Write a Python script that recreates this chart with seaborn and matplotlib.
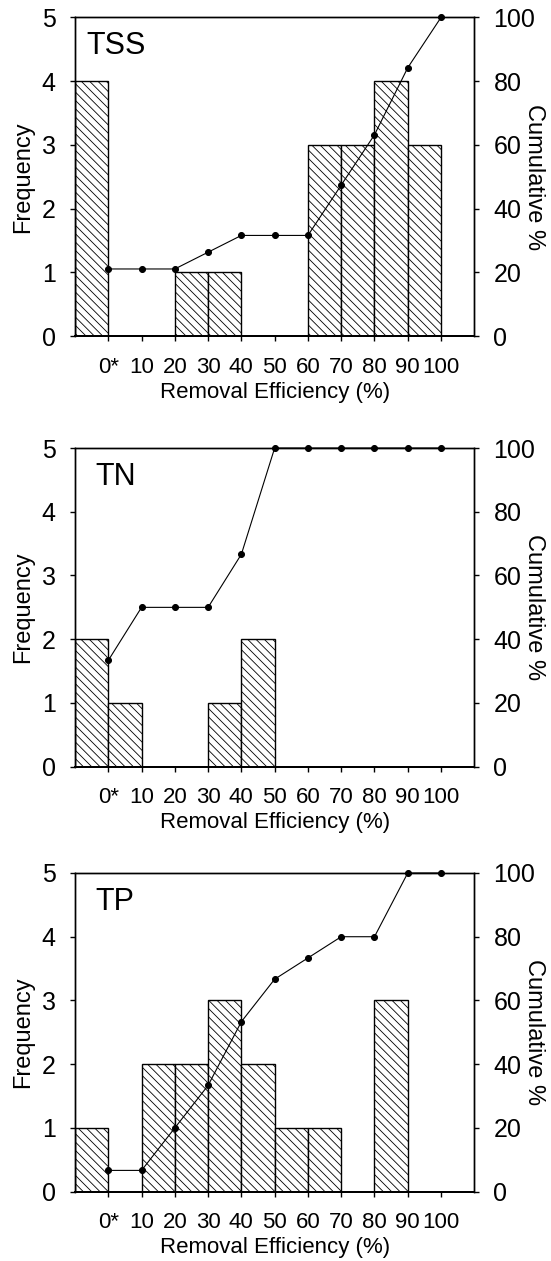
import numpy as np
import pandas as pd
import matplotlib
matplotlib.use("Agg")
import matplotlib.pyplot as plt
import seaborn as sns

# Bin edges (upper edges of each 10 % class); "0*" is the class ending at 0
edge_labels = ["0*", "10", "20", "30", "40", "50", "60", "70", "80", "90", "100"]
upper_edges = [0, 10, 20, 30, 40, 50, 60, 70, 80, 90, 100]

# Frequency of events per removal-efficiency class
tss_freq = [4, 0, 0, 1, 1, 0, 0, 3, 3, 4, 3]
tn_freq = [2, 1, 0, 0, 1, 2, 0, 0, 0, 0, 0]
tp_freq = [1, 0, 2, 2, 3, 2, 1, 1, 0, 3, 0]

panels = [("TSS", tss_freq, 0.028), ("TN", tn_freq, 0.05), ("TP", tp_freq, 0.052)]

sns.set_style("ticks")
plt.rcParams["font.family"] = ["Liberation Sans", "DejaVu Sans"]
plt.rcParams["hatch.linewidth"] = 0.6
plt.rcParams["axes.linewidth"] = 1.0
for key in ("text.color", "axes.labelcolor", "xtick.color", "ytick.color",
            "axes.edgecolor"):
    plt.rcParams[key] = "black"

fig = plt.figure(figsize=(5.51, 12.61), dpi=100)
left, width, height = 0.1361, 0.7247, 0.2527
bottoms = [0.7335, 0.3920, 0.0550]

bin_edges = [upper_edges[0] - 10] + list(upper_edges)
centers = [e - 5 for e in upper_edges]

for (name, freq, tx), b in zip(panels, bottoms):
    ax = fig.add_axes([left, b, width, height])
    df = pd.DataFrame({"center": centers, "freq": freq})
    sns.histplot(data=df, x="center", weights="freq", bins=bin_edges, ax=ax,
                 color="white", edgecolor="black", linewidth=1.0,
                 hatch="\\\\\\\\", alpha=1, fill=True)
    ax.set_xlim(-10, 110)
    ax.set_ylim(0, 5)
    ax.set_xticks(upper_edges)
    ax.set_xticklabels(edge_labels)
    ax.set_yticks(range(0, 6))
    ax.tick_params(axis="x", direction="out", length=3.3, width=1.0,
                   labelsize=16, pad=11.5)
    ax.tick_params(axis="y", direction="out", length=3.3, width=1.0,
                   labelsize=18, pad=10.5)
    ax.set_xlabel("Removal Efficiency (%)", fontsize=16, labelpad=3)
    ax.set_ylabel("Frequency", fontsize=17)
    ax.yaxis.set_label_coords(-0.103, 0.5)
    for s in ax.spines.values():
        s.set_color("black")
        s.set_linewidth(1.0)
    ax.spines["bottom"].set_linewidth(1.4)

    ax.text(tx, 0.885, name, transform=ax.transAxes, fontsize=22,
            ha="left", va="baseline")

    # Cumulative percentage at each class's upper edge
    cum = np.cumsum(freq) / np.sum(freq) * 100
    ax2 = ax.twinx()
    sns.lineplot(x=upper_edges, y=cum, ax=ax2, color="black", linewidth=0.8,
                 marker="o", markersize=4.3, markeredgecolor="black",
                 markerfacecolor="black", clip_on=False)
    ax2.set_ylim(0, 100)
    ax2.set_yticks(range(0, 101, 20))
    ax2.tick_params(axis="y", direction="out", length=3.3, width=1.0,
                    labelsize=18, pad=10.5)
    ax2.set_ylabel("Cumulative %", fontsize=17, rotation=270,
                   va="bottom", ha="center", rotation_mode="anchor")
    ax2.yaxis.set_label_coords(1.122, 0.5)
    for s in ax2.spines.values():
        s.set_color("black")
        s.set_linewidth(1.0)
    ax2.spines["bottom"].set_linewidth(1.4)

fig.savefig("out.png", dpi=100)
